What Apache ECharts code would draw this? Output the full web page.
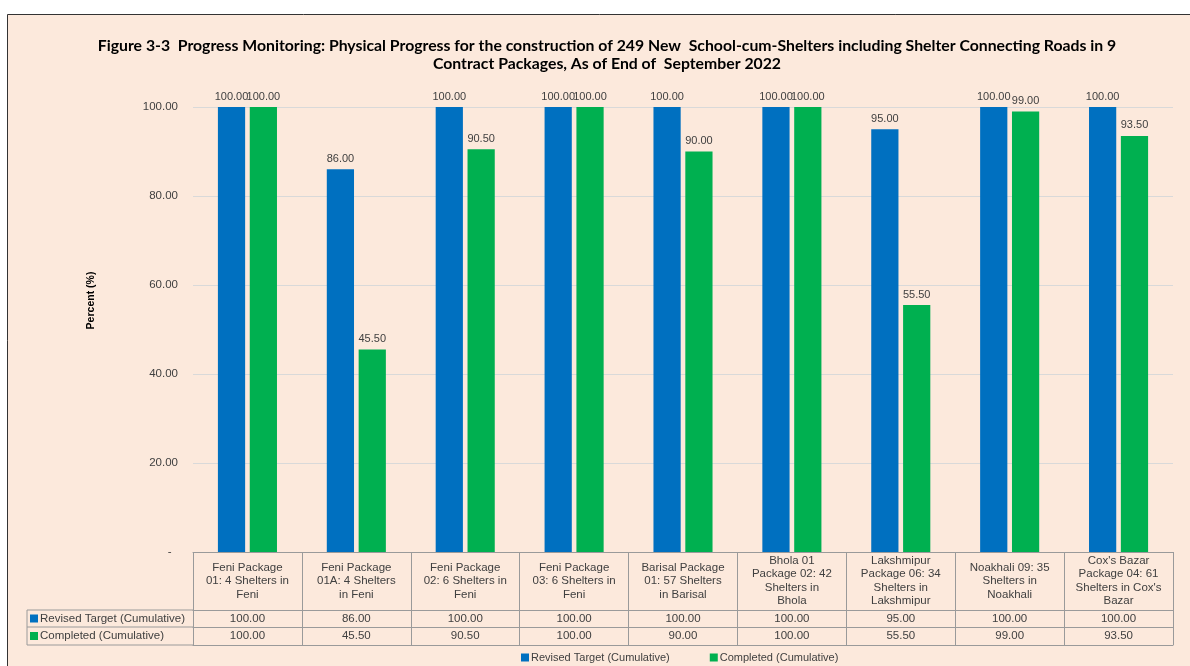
<!DOCTYPE html>
<html>
<head>
<meta charset="utf-8">
<title>Physical Progress - School-cum-Shelters</title>
<script src="https://cdn.jsdelivr.net/npm/echarts@6/dist/echarts.min.js"></script>
<style>
  html, body { margin: 0; padding: 0; background: #ffffff; }
  #chart { width: 1190px; height: 666px; }
</style>
</head>
<body>
<div id="chart"></div>
<script>
// contract packages (header row of the data table)
var packages = [
  'Feni Package\n01: 4 Shelters in\nFeni',
  'Feni Package\n01A: 4 Shelters\nin Feni',
  'Feni Package\n02: 6 Shelters in\nFeni',
  'Feni Package\n03: 6 Shelters in\nFeni',
  'Barisal Package\n01: 57 Shelters\nin Barisal',
  'Bhola 01\nPackage 02: 42\nShelters in\nBhola',
  'Lakshmipur\nPackage 06: 34\nShelters in\nLakshmipur',
  'Noakhali 09: 35\nShelters in\nNoakhali',
  "Cox's Bazar\nPackage 04: 61\nShelters in Cox's\nBazar"
];
var revisedTarget = [100.00, 86.00, 100.00, 100.00, 100.00, 100.00, 95.00, 100.00, 100.00];
var completed = [100.00, 45.50, 90.50, 100.00, 90.00, 100.00, 55.50, 99.00, 93.50];
var seriesNames = ['Revised Target (Cumulative)', 'Completed (Cumulative)'];
var yTicks = [0, 20, 40, 60, 80, 100];

var BLUE = '#0070C0';
var GREEN = '#00B050';
var BG = '#FCE9DC';
var LINE = '#9a9a9a';
var TXT = '#404040';
var FONT = 'Liberation Sans, Arial, sans-serif';

var gridLeft = 193, gridRight = 17, gridTop = 107, gridBottom = 114;
var rowY = [610, 627, 645]; // table row lines

var chart = echarts.init(document.getElementById('chart'));

function valueAxis(values, offset) {
  return {
    type: 'category',
    position: 'bottom',
    offset: offset,
    data: packages,
    axisLine: { show: true, lineStyle: { color: LINE, width: 1 } },
    axisTick: { show: false },
    axisLabel: {
      margin: 8.5,
      verticalAlign: 'middle',
      fontFamily: FONT,
      fontSize: 11.5,
      color: TXT,
      formatter: function (v, i) { return values[i].toFixed(2); }
    }
  };
}

function barLabel() {
  return {
    show: true, position: 'top', distance: 5,
    fontFamily: FONT, fontSize: 11, color: TXT,
    formatter: function (p) { return p.value.toFixed(2); }
  };
}

var option = {
  backgroundColor: '#ffffff',
  animation: false,
  title: {
    text: 'Figure 3-3  Progress Monitoring: Physical Progress for the construction of 249 New  School-cum-Shelters including Shelter Connecting Roads in 9\nContract Packages, As of End of  September 2022',
    left: 602,
    top: 32,
    textAlign: 'center',
    textStyle: {
      fontFamily: 'Lato, Open Sans, sans-serif',
      fontWeight: 'bold',
      fontSize: 15.8,
      lineHeight: 18,
      color: '#000000'
    }
  },
  legend: {
    data: seriesNames,
    left: 516,
    top: 647,
    icon: 'rect',
    itemWidth: 8,
    itemHeight: 8,
    itemGap: 40,
    textStyle: { fontFamily: FONT, fontSize: 11, color: TXT, padding: [0, 0, 0, -3] }
  },
  grid: { left: gridLeft, right: gridRight, top: gridTop, bottom: gridBottom, containLabel: false },
  xAxis: [
    {
      type: 'category',
      position: 'bottom',
      data: packages,
      axisLine: { show: true, lineStyle: { color: LINE, width: 1 } },
      axisTick: { show: true, length: 93, lineStyle: { color: LINE, width: 1 } },
      axisLabel: {
        interval: 0,
        margin: 29,
        verticalAlign: 'middle',
        align: 'center',
        lineHeight: 13.5,
        fontFamily: FONT,
        fontSize: 11.5,
        color: TXT
      }
    },
    valueAxis(revisedTarget, 58),
    valueAxis(completed, 75),
    {
      type: 'category',
      position: 'bottom',
      offset: 93,
      data: packages,
      axisLine: { show: true, lineStyle: { color: LINE, width: 1 } },
      axisTick: { show: false },
      axisLabel: { show: false }
    }
  ],
  yAxis: {
    type: 'value',
    min: yTicks[0],
    max: yTicks[yTicks.length - 1],
    interval: 20,
    name: 'Percent (%)',
    nameLocation: 'middle',
    nameRotate: 90,
    nameGap: 96,
    nameTextStyle: {
      fontFamily: 'Liberation Sans Narrow, Liberation Sans, Arial, sans-serif',
      fontWeight: 'bold', fontSize: 10.5, color: '#000000',
      padding: [0, 0, 0, 58]
    },
    axisLine: { show: false },
    axisTick: { show: false },
    splitLine: { show: true, lineStyle: { color: '#d9d9d9', width: 1 } },
    axisLabel: {
      margin: 15,
      fontFamily: FONT,
      fontSize: 11.5,
      color: TXT,
      formatter: function (v) { return v === 0 ? '-  ' : v.toFixed(2); }
    }
  },
  series: [
    {
      name: seriesNames[0],
      type: 'bar',
      data: revisedTarget,
      barWidth: '25%',
      barGap: '17%',
      itemStyle: { color: BLUE },
      label: barLabel()
    },
    {
      name: seriesNames[1],
      type: 'bar',
      data: completed,
      barWidth: '25%',
      barGap: '17%',
      itemStyle: { color: GREEN },
      label: barLabel()
    }
  ]
};

// frame, background and the row-label column of the data table
var tblLeft = 27;
option.graphic = [
  {
    type: 'rect', z: -10, silent: true,
    shape: { x: 7.5, y: 14.5, width: 1200, height: 700 },
    style: { fill: BG, stroke: '#333333', lineWidth: 1 }
  },
  {
    type: 'polyline', silent: true,
    shape: { points: [[gridLeft, rowY[0]], [tblLeft, rowY[0]], [tblLeft, rowY[2]], [gridLeft, rowY[2]]] },
    style: { fill: null, stroke: LINE, lineWidth: 1 }
  },
  {
    type: 'line', silent: true,
    shape: { x1: tblLeft, y1: rowY[1], x2: gridLeft, y2: rowY[1] },
    style: { stroke: LINE, lineWidth: 1 }
  },
  {
    type: 'rect', silent: true,
    shape: { x: tblLeft + 3, y: (rowY[0] + rowY[1]) / 2 - 4, width: 8, height: 8 },
    style: { fill: BLUE }
  },
  {
    type: 'rect', silent: true,
    shape: { x: tblLeft + 3, y: (rowY[1] + rowY[2]) / 2 - 4, width: 8, height: 8 },
    style: { fill: GREEN }
  },
  {
    type: 'text', silent: true,
    x: tblLeft + 13, y: (rowY[0] + rowY[1]) / 2,
    style: { text: seriesNames[0], fill: TXT, font: '11.5px "Liberation Sans", Arial, sans-serif', verticalAlign: 'middle' }
  },
  {
    type: 'text', silent: true,
    x: tblLeft + 13, y: (rowY[1] + rowY[2]) / 2,
    style: { text: seriesNames[1], fill: TXT, font: '11.5px "Liberation Sans", Arial, sans-serif', verticalAlign: 'middle' }
  }
];

chart.setOption(option);
</script>
</body>
</html>
